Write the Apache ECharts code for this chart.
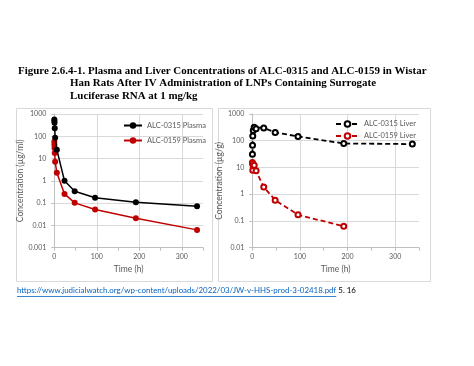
<!DOCTYPE html>
<html><head><meta charset="utf-8">
<script src="https://cdn.jsdelivr.net/npm/echarts@6/dist/echarts.min.js"></script>
<style>html,body{margin:0;padding:0;background:#fff}#c{width:474px;height:366px}</style>
</head><body><div id="c"></div>
<script>
// ---- text ----
const titleLines = [
  'Figure 2.6.4-1. Plasma and Liver Concentrations of ALC-0315 and ALC-0159 in Wistar',
  'Han Rats After IV Administration of LNPs Containing Surrogate',
  'Luciferase RNA at 1 mg/kg'
];
const sourceUrl = 'https://www.judicialwatch.org/wp-content/uploads/2022/03/JW-v-HHS-prod-3-02418.pdf';
const sourceSuffix = ' 5. 16';
const seriesNames = ['ALC-0315 Plasma', 'ALC-0159 Plasma', 'ALC-0315 Liver', 'ALC-0159 Liver'];
const xAxisName = 'Time (h)';
const plasmaYName = 'Concentration (µg/ml)';
const liverYName = 'Concentration (µg/g)';

// ---- ticks ----
const xTicks = [0, 100, 200, 300];
const plasmaYTicks = [0.001, 0.01, 0.1, 1, 10, 100, 1000];
const liverYTicks = [0.01, 0.1, 1, 10, 100, 1000];

// ---- data ----
const plasmaTime = [0.1, 0.25, 0.5, 1, 2, 6, 24, 48, 96, 192, 336];
const alc0315Plasma = [560, 480, 400, 230, 87, 25, 1.0, 0.34, 0.175, 0.11, 0.072];
const alc0159Plasma = [57, 42, 30, 18, 7.2, 2.3, 0.26, 0.103, 0.052, 0.021, 0.0063];
const liverTime0315 = [0.25, 0.5, 1, 2, 4, 8, 24, 48, 96, 192, 336];
const alc0315Liver = [31, 68, 150, 240, 320, 280, 300, 205, 145, 79, 75];
const liverTime0159 = [0.25, 0.5, 1, 2, 4, 8, 24, 48, 96, 192];
const alc0159Liver = [15.5, 14, 7.8, 11.5, 12, 7.5, 1.85, 0.6, 0.17, 0.063];

const zip = (t, v) => t.map((x, i) => [x, v[i]]);

// ---- style ----
const RED = '#C00000', BLK = '#000000', GRID = '#d9d9d9', AX = '#bfbfbf', LBL = '#595959';
const SANS = 'Lato, "Open Sans", sans-serif';
const SERIF = '"Liberation Serif", "DejaVu Serif", serif';

function fitSize(text, font, weight, target) {
  const ctx = document.createElement('canvas').getContext('2d');
  ctx.font = weight + ' 100px ' + font;
  return 100 * target / ctx.measureText(text).width;
}
function textWidth(text, font, size, weight) {
  const ctx = document.createElement('canvas').getContext('2d');
  ctx.font = (weight || 'normal') + ' ' + size + 'px ' + font;
  return ctx.measureText(text).width;
}
const titleSize = fitSize(titleLines[0], SERIF, 'bold', 409);
const urlSize = fitSize(sourceUrl, SANS, 'normal', 320);
const urlW = textWidth(sourceUrl, SANS, urlSize);

const fmtLog = v => String(Number(Number(v).toPrecision(3)));

function xAxisCfg(gi) {
  return {
    gridIndex: gi, type: 'value', min: 0, max: 350, interval: 100,
    name: xAxisName, nameLocation: 'middle', nameGap: 17,
    nameTextStyle: { fontFamily: SANS, fontSize: 8.5, color: LBL },
    axisLine: { show: true, onZero: false, lineStyle: { color: AX, width: 1 } },
    axisTick: { show: true, length: 3, lineStyle: { color: AX } },
    minorTick: { show: true, splitNumber: 2, length: 3, lineStyle: { color: AX } },
    axisLabel: { showMaxLabel: false, fontFamily: SANS, fontSize: 7, color: LBL, margin: 6,
      formatter: v => (xTicks.indexOf(v) >= 0 ? String(v) : '') },
    splitLine: { show: true, showMaxLine: false, showMinLine: false, lineStyle: { color: GRID, width: 1 } }
  };
}
function yAxisCfg(gi, min, max, name, gap) {
  return {
    gridIndex: gi, type: 'log', logBase: 10, min: min, max: max,
    name: name, nameLocation: 'middle', nameGap: gap,
    nameTextStyle: { fontFamily: SANS, fontSize: 8.5, color: LBL },
    axisLine: { show: true, lineStyle: { color: AX, width: 1 } },
    axisTick: { show: true, length: 3, lineStyle: { color: AX } },
    axisLabel: { fontFamily: SANS, fontSize: 7, color: LBL, margin: 8, formatter: fmtLog },
    splitLine: { show: true, lineStyle: { color: GRID, width: 1 } }
  };
}

const chart = echarts.init(document.getElementById('c'), null, { renderer: 'canvas' });
chart.setOption({
  animation: false,
  backgroundColor: '#fff',
  title: [
    { text: titleLines[0], left: 18, top: 65.5, padding: 0, textStyle: { fontFamily: SERIF, fontWeight: 'bold', fontSize: titleSize, color: '#000' } },
    { text: titleLines[1], left: 70, top: 78, padding: 0, textStyle: { fontFamily: SERIF, fontWeight: 'bold', fontSize: titleSize, color: '#000' } },
    { text: titleLines[2], left: 70, top: 90.5, padding: 0, textStyle: { fontFamily: SERIF, fontWeight: 'bold', fontSize: titleSize, color: '#000' } },
    { text: sourceUrl, left: 17, top: 286, padding: 0, textStyle: { fontFamily: SANS, fontWeight: 'normal', fontSize: urlSize, color: '#0563C1' } },
    { text: sourceSuffix, left: 17 + urlW, top: 286, padding: 0, textStyle: { fontFamily: SANS, fontWeight: 'normal', fontSize: urlSize, color: '#000' } }
  ],
  graphic: [
    { type: 'rect', shape: { x: 16.5, y: 108.5, width: 196, height: 173 }, style: { fill: 'none', stroke: GRID, lineWidth: 1 }, silent: true },
    { type: 'rect', shape: { x: 218.5, y: 108.5, width: 212, height: 173 }, style: { fill: 'none', stroke: GRID, lineWidth: 1 }, silent: true },
    { type: 'line', shape: { x1: 17, y1: 296.5, x2: 17 + urlW, y2: 296.5 }, style: { stroke: '#0563C1', lineWidth: 0.8 }, silent: true }
  ],
  legend: [
    { show: true, orient: 'vertical', left: 118, top: 116, itemWidth: 18, itemHeight: 8, itemGap: 6,
      data: [seriesNames[0], seriesNames[1]],
      textStyle: { fontFamily: SANS, fontSize: 7.5, color: LBL, lineHeight: 9 } },
    { show: true, orient: 'vertical', left: 330, top: 114.5, itemWidth: 23, itemHeight: 7, itemGap: 3,
      data: [seriesNames[2], seriesNames[3]],
      textStyle: { fontFamily: SANS, fontSize: 7.5, color: LBL, lineHeight: 9 } }
  ],
  grid: [
    { left: 54.3, top: 114, width: 148.7, height: 133.7, containLabel: false },
    { left: 252.3, top: 114, width: 166.7, height: 133.7, containLabel: false }
  ],
  xAxis: [xAxisCfg(0), xAxisCfg(1)],
  yAxis: [
    yAxisCfg(0, plasmaYTicks[0], plasmaYTicks[plasmaYTicks.length - 1], plasmaYName, 24),
    yAxisCfg(1, liverYTicks[0], liverYTicks[liverYTicks.length - 1], liverYName, 18)
  ],
  series: [
    { name: seriesNames[0], type: 'line', xAxisIndex: 0, yAxisIndex: 0, data: zip(plasmaTime, alc0315Plasma),
      symbol: 'circle', symbolSize: 6, lineStyle: { color: BLK, width: 1.5 }, itemStyle: { color: BLK }, z: 3 },
    { name: seriesNames[1], type: 'line', xAxisIndex: 0, yAxisIndex: 0, data: zip(plasmaTime, alc0159Plasma),
      symbol: 'circle', symbolSize: 6, lineStyle: { color: RED, width: 1.5 }, itemStyle: { color: RED }, z: 2 },
    { name: seriesNames[2], type: 'line', xAxisIndex: 1, yAxisIndex: 1, data: zip(liverTime0315, alc0315Liver),
      symbol: 'emptyCircle', symbolSize: 5, lineStyle: { color: BLK, width: 1.8, type: [5, 3] },
      itemStyle: { color: BLK, borderColor: BLK, borderWidth: 1.2 }, z: 3 },
    { name: seriesNames[3], type: 'line', xAxisIndex: 1, yAxisIndex: 1, data: zip(liverTime0159, alc0159Liver),
      symbol: 'emptyCircle', symbolSize: 5, lineStyle: { color: RED, width: 1.8, type: [5, 3] },
      itemStyle: { color: RED, borderColor: RED, borderWidth: 1.2 }, z: 2 }
  ]
});
</script></body></html>
